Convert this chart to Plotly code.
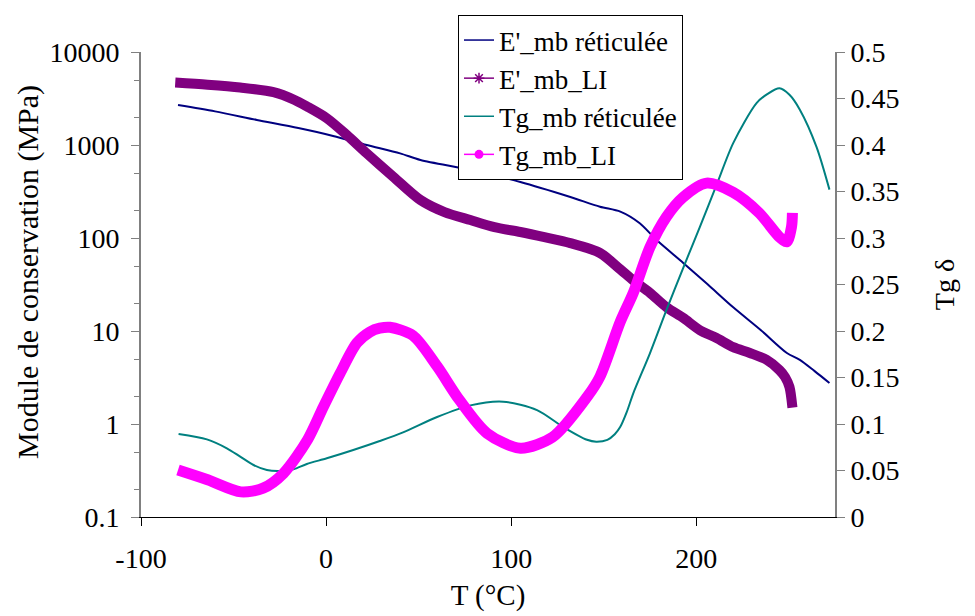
import plotly.graph_objects as go

# ---------------- data ----------------
T_E_ret = [-80, -60, -37.4, -15, 3.8, 22, 40, 51, 78, 105, 132, 148, 159, 169.5, 178.6,
           193, 206, 220, 235, 249, 256, 264, 272]
E_ret = [2690, 2300, 1860, 1520, 1250, 1000, 813, 690, 540, 400, 276, 217, 192, 144, 95,
         54, 32, 18, 10.2, 5.8, 4.9, 3.7, 2.76]

T_E_LI = [-81.5, -64, -46.4, -28.4, -17, -10.4, 0.4, 11.2, 22, 36.3, 51, 64, 78, 91, 105,
          118, 132, 148, 159, 166, 175, 184, 193, 202, 211, 220, 229, 238, 245, 248, 250.4, 252]
E_LI = [4690, 4450, 4150, 3700, 3050, 2600, 1940, 1280, 813, 456, 256, 190, 156, 131, 116,
        102, 88, 69, 46, 35, 25.7, 18, 13.8, 10.2, 8.4, 6.7, 5.8, 4.9, 3.8, 3.2, 2.5, 1.5]

T_tg_ret = [-79.7, -64.4, -53.6, -46.4, -39.2, -32, -24.8, -17.6, -10.4, 0.4, 14.7, 29, 41.6,
            60, 78, 95.7, 114, 128, 141, 146, 152, 156, 159, 162.5, 166, 175, 184, 193, 202,
            211, 220, 232.6, 238.6, 245, 250.4, 256, 265, 272]
tg_ret = [0.0892, 0.0835, 0.0739, 0.0649, 0.0559, 0.0505, 0.0495, 0.0513, 0.057, 0.0631,
          0.072, 0.0817, 0.091, 0.1075, 0.120, 0.124, 0.115, 0.097, 0.083, 0.081, 0.083,
          0.089, 0.097, 0.113, 0.133, 0.176, 0.223, 0.268, 0.312, 0.357, 0.402, 0.445,
          0.455, 0.461, 0.454, 0.438, 0.398, 0.352]

T_tg_LI = [-80, -64, -46, -34, -23, -10, -1.4, 7.6, 16.6, 23.7, 29, 34.5, 47, 60, 72, 87, 105,
           122.5, 141, 148, 159, 166, 175, 184, 193, 205.6, 220, 234, 245, 249, 251.5, 252]
tg_LI = [0.0505, 0.040, 0.027, 0.031, 0.047, 0.083, 0.1186, 0.1545, 0.187, 0.199, 0.203,
         0.204, 0.195, 0.162, 0.126, 0.090, 0.074, 0.086, 0.129, 0.151, 0.21, 0.241, 0.29,
         0.323, 0.344, 0.359, 0.349, 0.327, 0.301, 0.296, 0.312, 0.327]

x_ticks = [-100, 0, 100, 200]
x_ticktext = ["-100", "0", "100", "200"]
y_ticks = [0.1, 1, 10, 100, 1000, 10000]
y_ticktext = ["0.1", "1", "10", "100", "1000", "10000"]

names = ["E'_mb réticulée", "E'_mb_LI", "Tg_mb réticulée", "Tg_mb_LI"]
colors = ["#000080", "#800080", "#008080", "#FF00FF"]

FONT = "Liberation Serif"

# the page body has an 8px margin: figure is drawn from (8, 8)
W, H = 967, 608
OFF = 8
PL, PR, PT, PB = 141, 835, 52, 517   # plot area in page pixels

fig = go.Figure()

# data traces (no legend; legend uses thin sample traces below)
fig.add_trace(go.Scatter(x=T_E_ret, y=E_ret, mode="lines", yaxis="y",
                         line=dict(color=colors[0], width=2, shape="spline", smoothing=0.8),
                         showlegend=False, hoverinfo="skip"))
fig.add_trace(go.Scatter(x=T_E_LI, y=E_LI, mode="lines", yaxis="y",
                         line=dict(color=colors[1], width=10, shape="spline", smoothing=0.8),
                         showlegend=False, hoverinfo="skip"))
fig.add_trace(go.Scatter(x=T_tg_ret, y=tg_ret, mode="lines", yaxis="y2",
                         line=dict(color=colors[2], width=2, shape="spline", smoothing=0.8),
                         showlegend=False, hoverinfo="skip"))
fig.add_trace(go.Scatter(x=T_tg_LI, y=tg_LI, mode="lines", yaxis="y2",
                         line=dict(color=colors[3], width=11, shape="spline", smoothing=0.8),
                         showlegend=False, hoverinfo="skip"))

# legend samples
fig.add_trace(go.Scatter(x=[None], y=[None], mode="lines", name=names[0], yaxis="y",
                         line=dict(color=colors[0], width=1.5)))
fig.add_trace(go.Scatter(x=[None], y=[None], mode="lines+markers", name=names[1], yaxis="y",
                         line=dict(color=colors[1], width=1.5),
                         marker=dict(symbol="asterisk-open", size=9,
                                     line=dict(color=colors[1], width=1.5))))
fig.add_trace(go.Scatter(x=[None], y=[None], mode="lines", name=names[2], yaxis="y2",
                         line=dict(color=colors[2], width=1.5)))
fig.add_trace(go.Scatter(x=[None], y=[None], mode="lines+markers", name=names[3], yaxis="y2",
                         line=dict(color=colors[3], width=1.5),
                         marker=dict(symbol="circle", size=9, color=colors[3])))

fig.update_layout(
    width=W, height=H,
    margin=dict(l=PL - OFF, r=(W + OFF) - PR, t=PT - OFF, b=(H + OFF) - PB,
                autoexpand=False),
    paper_bgcolor="white", plot_bgcolor="white",
    font=dict(family=FONT, size=28, color="black"),
    showlegend=True,
    legend=dict(xref="container", yref="container",
                x=(458 - OFF) / W, y=1 - (15 - OFF) / H,
                xanchor="left", yanchor="top",
                bgcolor="white", bordercolor="black", borderwidth=1,
                font=dict(family=FONT, size=27), tracegroupgap=0,
                itemwidth=30),
    xaxis=dict(range=[-100, 275], tickvals=x_ticks, ticktext=x_ticktext,
               ticks="outside", ticklen=8,
               tickcolor="black", showline=True, linecolor="black", linewidth=1,
               showgrid=False, zeroline=False,
               title=dict(text="T (°C)", standoff=12, font=dict(family=FONT, size=29)),
               tickfont=dict(family=FONT, size=28),
               ticklabelstandoff=8),
    yaxis=dict(type="log", range=[-1, 4], tickvals=y_ticks, ticktext=y_ticktext,
               ticks="outside", ticklen=8, tickcolor="#808080",
               showline=True, linecolor="#808080", linewidth=2,
               showgrid=False, zeroline=False,
               minor=dict(ticks="outside", ticklen=5, tickcolor="#808080", showgrid=False),
               tickfont=dict(family=FONT, size=28),
               ticklabelstandoff=6),
    yaxis2=dict(overlaying="y", side="right", range=[0, 0.5], dtick=0.05,
                ticks="outside", ticklen=8, tickcolor="#808080",
                showline=True, linecolor="#808080", linewidth=2,
                showgrid=False, zeroline=False,
                tickfont=dict(family=FONT, size=28),
                title=dict(text="Tg δ", standoff=36, font=dict(family=FONT, size=28))),
    annotations=[dict(text="Module de conservation (MPa)", textangle=-90,
                      xref="paper", yref="paper",
                      x=(28 - PL) / (PR - PL), y=(PB - 272) / (PB - PT),
                      xanchor="center", yanchor="middle", showarrow=False,
                      font=dict(family=FONT, size=30, color="black"))],
)

fig.write_html("out.html")
